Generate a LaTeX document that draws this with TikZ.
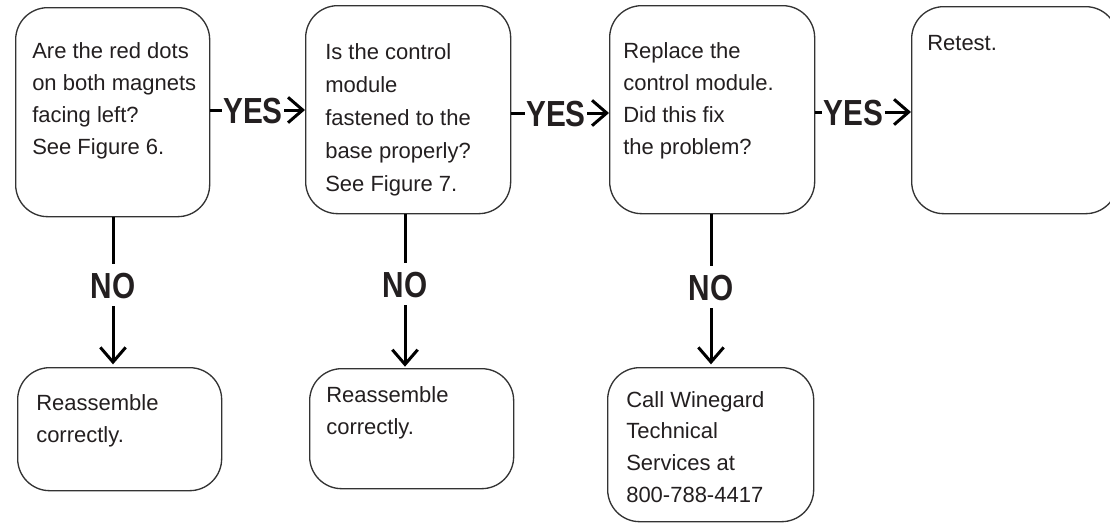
\documentclass[tikz,border=0pt]{standalone}
\usepackage{fontspec}
\setmainfont{Liberation Sans}
\newfontfamily\tagfont[FakeStretch=0.82]{Liberation Sans}
\usetikzlibrary{arrows.meta}
\definecolor{ink}{HTML}{231F20}
\definecolor{edge}{HTML}{333333}
\tikzset{
  box/.style={draw=edge, line width=1pt, rounded corners=24pt, anchor=north west, inner sep=0pt},
  body/.style={anchor=north west, inner sep=0pt, align=left, text=ink,
    font=\fontsize{16.5}{24}\selectfont},
  tag/.style={inner xsep=1pt, inner ysep=6pt, text=ink,
    font=\tagfont\bfseries\fontsize{27.2}{30}\selectfont, text height=19.5pt, text depth=0pt},
  wire/.style={line width=2.25pt, draw=black},
  flow/.style={wire, -{Straight Barb[length=11pt, width=19pt]}},
}
\begin{document}
\begin{tikzpicture}[x=0.75pt, y=-0.75pt]
\useasboundingbox (0,0) rectangle (1110,522);

% question / action boxes, top row
\node[box, minimum width=145.5pt, minimum height=156.75pt] (b1) at (15,7) {};
\node[box, minimum width=153.75pt, minimum height=156pt] (b2) at (305,5) {};
\node[box, minimum width=153.75pt, minimum height=156pt] (b3) at (609,5) {};
\node[box, minimum width=154.5pt, minimum height=155.25pt] (b4) at (911,6) {};

% outcome boxes, bottom row
\node[box, minimum width=153pt, minimum height=92.25pt] (b5) at (17,367) {};
\node[box, minimum width=153pt, minimum height=90pt] (b6) at (309,368) {};
\node[box, minimum width=154.5pt, minimum height=115.5pt] (b7) at (607,367) {};

% box texts
\node[body] (t1) at (32,35.6) {\strut Are the red dots\\on both magnets\\facing left?\\See Figure 6.};
\node[body, font=\fontsize{16.5}{24.6}\selectfont] (t2) at (325,36.6) {\strut Is the control\\module\\fastened to the\\base properly?\\See Figure 7.};
\node[body] (t3) at (623,35.6) {\strut Replace the\\control module.\\Did this fix\\the problem?};
\node[body] (t4) at (927,27.6) {\strut Retest.};
\node[body] (t5) at (36,387.6) {\strut Reassemble\\correctly.};
\node[body] (t6) at (326,379.6) {\strut Reassemble\\correctly.};
\node[body, font=\fontsize{16.5}{23.8}\selectfont] (t7) at (626,384.6) {\strut Call Winegard\\Technical\\Services at\\800-788-4417};

% YES branches
\node[tag] (y1) at (253,110) {YES};
\node[tag] (y2) at (556,113) {YES};
\node[tag] (y3) at (853.5,112) {YES};
\draw[wire] (b1.east |- y1) -- (y1.west);
\draw[flow] (y1.east) -- (b2.west |- y1);
\draw[wire] (b2.east |- y2) -- (y2.west);
\draw[flow] (y2.east) -- (b3.west |- y2);
\draw[wire] (b3.east |- y3) -- (y3.west);
\draw[flow] (y3.east) -- (b4.west |- y3);

% NO branches
\node[tag] (n1) at (113,285) {NO};
\node[tag] (n2) at (405,284) {NO};
\node[tag] (n3) at (711,287) {NO};
\draw[wire] (b1.south -| n1) -- (n1.north);
\draw[flow, shorten >=2pt] (n1.south) -- (b5.north -| n1);
\draw[wire] (b2.south -| n2) -- (n2.north);
\draw[flow, shorten >=1pt] (n2.south) -- (b6.north -| n2);
\draw[wire] (b3.south -| n3) -- (n3.north);
\draw[flow, shorten >=2pt] (n3.south) -- (b7.north -| n3);
\end{tikzpicture}
\end{document}
